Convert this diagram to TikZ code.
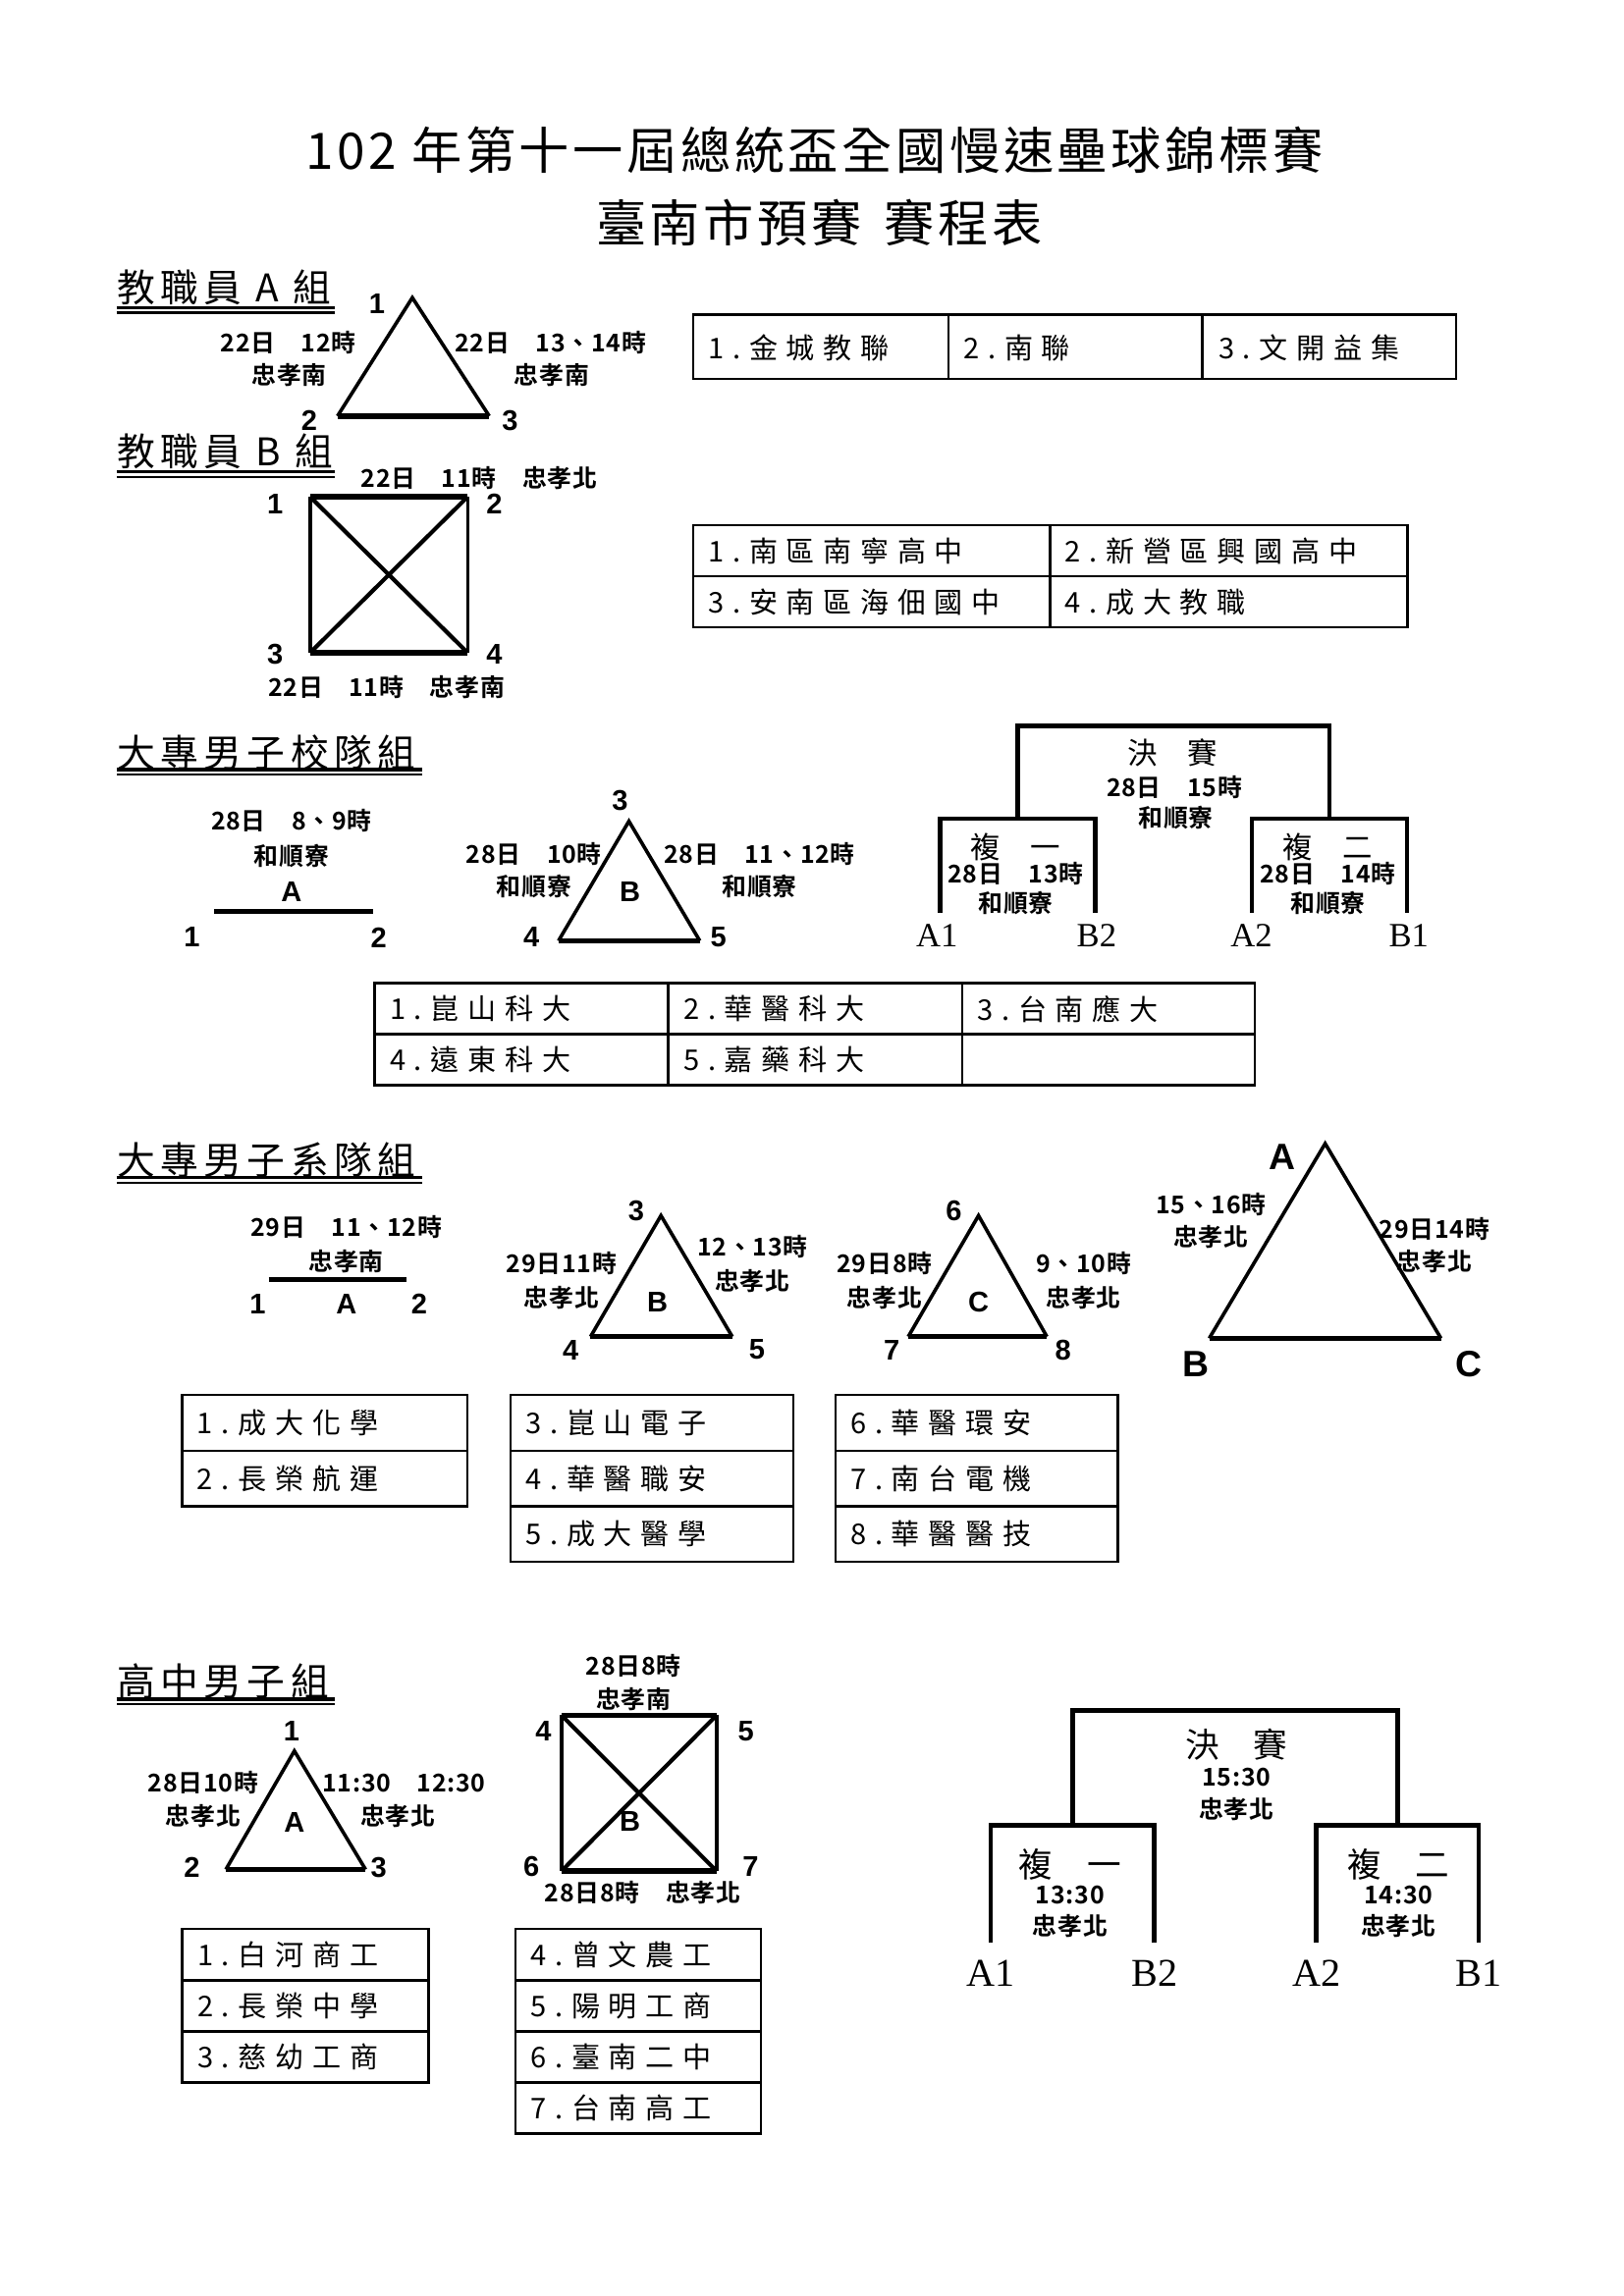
\documentclass[tikz,border=0pt]{standalone}
\usepackage{fontspec}
\setmainfont{Noto Sans CJK TC}
\newfontfamily\titlefont{Noto Sans CJK TC}[LetterSpace=7]
\newfontfamily\headfont{Noto Sans CJK TC}[LetterSpace=14]
\newfontfamily\cellfont{Noto Sans CJK TC}[LetterSpace=30]
\newfontfamily\labfont{Noto Sans CJK TC Bold}[LetterSpace=3]
\newfontfamily\numfont{Liberation Sans}
\newfontfamily\leaffont{Liberation Serif}

\begin{document}
\begin{tikzpicture}[x=0.019091cm,y=-0.019091cm,
  lab/.style={font=\labfont\fontsize{9}{10}\selectfont,inner sep=0pt},
  vnum/.style={font=\numfont\bfseries\fontsize{10.5}{12}\selectfont,inner sep=0pt},
  bignum/.style={font=\numfont\bfseries\fontsize{13.5}{15}\selectfont,inner sep=0pt},
  cell/.style={font=\cellfont\fontsize{10.5}{12}\selectfont,anchor=west,inner sep=0pt},
  head/.style={font=\headfont\fontsize{14}{16}\selectfont,anchor=west,inner sep=0pt},
  leaf/.style={font=\leaffont\fontsize{12.5}{14}\selectfont,inner sep=0pt},
  bigleaf/.style={font=\leaffont\fontsize{14.5}{16}\selectfont,inner sep=0pt},
  rnd/.style={font=\fontsize{11}{13}\selectfont,inner sep=0pt},
  bigrnd/.style={font=\fontsize{12.5}{14}\selectfont,inner sep=0pt},
  sideln/.style={line width=1.3pt},
  baseln/.style={line width=2pt},
  crossln/.style={line width=1.5pt},
  brk/.style={line width=1.7pt},
  grid/.style={line width=0.9pt},
  ulinetop/.style={line width=1.2pt},
  ulinebot/.style={line width=0.9pt}]
  \useasboundingbox (0,0) rectangle (1100,1555.6);
  \fill[white] (0,0) rectangle (1100,1555.6);

  \node[font=\titlefont\fontsize{18.5}{22}\selectfont,inner sep=0pt] (title1) at (551.7,102) {102 年第十一屆總統盃全國慢速壘球錦標賽};
  \node[font=\titlefont\fontsize{18.5}{22}\selectfont,inner sep=0pt] (title2) at (554.8,150.7) {臺南市預賽\hspace{0.45em}賽程表};

  % 教職員 A 組
  \node[head] (headA) at (79,195) {教職員 A 組};
  \draw[ulinetop] (79,208.4) -- (227,208.4);
  \draw[ulinebot] (79,211.9) -- (227,211.9);
  \coordinate (ja1) at (279.3,201.7);
  \coordinate (ja2) at (228.6,281.9);
  \coordinate (ja3) at (331.4,281.9);
  \draw[sideln] (ja2) -- (ja1) -- (ja3);
  \draw[baseln] (ja2) -- (ja3);
  \node[vnum] (ja1n) at (255.3,206) {1};
  \node[vnum] (ja2n) at (209.4,285) {2};
  \node[vnum] (ja3n) at (345.5,285) {3};
  \node[lab] (jaL1) at (195.3,232.3) {22日　12時};
  \node[lab] (jaL2) at (196,254.4) {忠孝南};
  \node[lab] (jaR1) at (373,232.3) {22日　13、14時};
  \node[lab] (jaR2) at (373.7,254.4) {忠孝南};
  \draw[grid] (469.6,213.3) rectangle (986.3,256.7);
  \draw[grid] (642.6,213.3) -- (642.6,256.7);
  \draw[grid] (814.4,213.3) -- (814.4,256.7);
  \node[cell] (jaT1) at (479.4,236) {1.金城教聯};
  \node[cell] (jaT2) at (652.4,236) {2.南聯};
  \node[cell] (jaT3) at (825,236) {3.文開益集};

  % 教職員 B 組
  \node[head] (headB) at (79,305.9) {教職員 B 組};
  \draw[ulinetop] (79,319.7) -- (227,319.7);
  \draw[ulinebot] (79,323.2) -- (227,323.2);
  \node[lab] (jbTop) at (324.6,323.7) {22日　11時　忠孝北};
  \coordinate (jb1) at (210,336.5);
  \coordinate (jb2) at (316.8,336.5);
  \coordinate (jb3) at (210,442.3);
  \coordinate (jb4) at (316.8,442.3);
  \draw[sideln] (jb1) -- (jb3) (jb2) -- (jb4);
  \draw[baseln] (jb1) -- (jb2) (jb3) -- (jb4);
  \draw[crossln] (jb1) -- (jb4) (jb2) -- (jb3);
  \node[vnum] (jb1n) at (186.4,341.3) {1};
  \node[vnum] (jb2n) at (334.8,341.3) {2};
  \node[vnum] (jb3n) at (186.4,443.3) {3};
  \node[vnum] (jb4n) at (334.8,443.3) {4};
  \node[lab] (jbBot) at (261.8,465.5) {22日　11時　忠孝南};
  \draw[grid] (469.6,355.8) rectangle (953.4,425);
  \draw[grid] (469.6,390.4) -- (953.4,390.4);
  \draw[grid] (711.2,355.8) -- (711.2,425);
  \node[cell] (jbT1) at (479.4,373.5) {1.南區南寧高中};
  \node[cell] (jbT2) at (721,373.5) {2.新營區興國高中};
  \node[cell] (jbT3) at (479.4,408) {3.安南區海佃國中};
  \node[cell] (jbT4) at (721,408) {4.成大教職};

  % 大專男子校隊組
  \node[head] (headC) at (79,509.9) {大專男子校隊組};
  \draw[ulinetop] (79,521.4) -- (286,521.4);
  \draw[ulinebot] (79,524.9) -- (286,524.9);
  \node[lab] (caL1) at (197.5,556) {28日　8、9時};
  \node[lab] (caL2) at (197.5,579.7) {和順寮};
  \node[vnum] (caName) at (197.5,604.5) {A};
  \coordinate (ca1) at (145,617.4);
  \coordinate (ca2) at (253,617.4);
  \draw[line width=1.7pt] (ca1) -- (ca2);
  \node[vnum] (ca1n) at (130,635.1) {1};
  \node[vnum] (ca2n) at (256.6,635.1) {2};
  \coordinate (cb3) at (426,556.4);
  \coordinate (cb4) at (378.3,637.4);
  \coordinate (cb5) at (474,637.4);
  \draw[sideln] (cb4) -- (cb3) -- (cb5);
  \draw[baseln] (cb4) -- (cb5);
  \node[vnum] (cb3n) at (420,542.7) {3};
  \node[vnum] (cb4n) at (360,635.1) {4};
  \node[vnum] (cb5n) at (486.7,635.1) {5};
  \node[vnum] (cbName) at (426.7,604.1) {B};
  \node[lab] (cbL1) at (361.7,578.6) {28日　10時};
  \node[lab] (cbL2) at (361.7,600.8) {和順寮};
  \node[lab] (cbR1) at (514.5,578.6) {28日　11、12時};
  \node[lab] (cbR2) at (514.5,600.8) {和順寮};
  \coordinate (ckA1) at (637,618.5);
  \coordinate (ckB2) at (742,618.5);
  \coordinate (ckA2) at (848,618.5);
  \coordinate (ckB1) at (953,618.5);
  \coordinate (cq1) at (689.5,554.7);
  \coordinate (cq2) at (900.5,554.7);
  \coordinate (cfin) at (795,491.7);
  \draw[brk] (ckA1) |- (cq1) -| (ckB2);
  \draw[brk] (ckA2) |- (cq2) -| (ckB1);
  \draw[brk] (cq1) |- (cfin) -| (cq2);
  \node[rnd] (cfinT) at (794,509.9) {決　賽};
  \node[lab] (cfinD) at (795.5,533.2) {28日　15時};
  \node[lab] (cfinP) at (796.5,554.2) {和順寮};
  \node[rnd] (cs1T) at (688,574.2) {複　一};
  \node[lab] (cs1D) at (688,591.9) {28日　13時};
  \node[lab] (cs1P) at (688,611.9) {和順寮};
  \node[rnd] (cs2T) at (899.5,574.2) {複　二};
  \node[lab] (cs2D) at (899.5,591.9) {28日　14時};
  \node[lab] (cs2P) at (899.5,611.9) {和順寮};
  \node[leaf] (cl1) at (634.7,634) {A1};
  \node[leaf] (cl2) at (742.8,634) {B2};
  \node[leaf] (cl3) at (847.6,634) {A2};
  \node[leaf] (cl4) at (954.2,634) {B1};
  \draw[grid] (253.7,666.2) rectangle (850,735.3);
  \draw[grid] (253.7,700.7) -- (850,700.7);
  \draw[grid] (452.7,666.2) -- (452.7,735.3);
  \draw[grid] (651.6,666.2) -- (651.6,735.3);
  \node[cell] (cT1) at (263.7,683.5) {1.崑山科大};
  \node[cell] (cT2) at (462.7,683.5) {2.華醫科大};
  \node[cell] (cT3) at (661.6,683.5) {3.台南應大};
  \node[cell] (cT4) at (263.7,718) {4.遠東科大};
  \node[cell] (cT5) at (462.7,718) {5.嘉藥科大};

  % 大專男子系隊組
  \node[head] (headD) at (79,785.7) {大專男子系隊組};
  \draw[ulinetop] (79,797.9) -- (286,797.9);
  \draw[ulinebot] (79,801.4) -- (286,801.4);
  \node[lab] (daL1) at (234.6,831.3) {29日　11、12時};
  \node[lab] (daL2) at (234.6,854.6) {忠孝南};
  \coordinate (da1) at (182,866.8);
  \coordinate (da2) at (275.3,866.8);
  \draw[line width=1.7pt] (da1) -- (da2);
  \node[vnum] (da1n) at (174.6,883.4) {1};
  \node[vnum] (daName) at (234.6,883.4) {A};
  \node[vnum] (da2n) at (284,883.4) {2};
  \coordinate (db3) at (447.7,823.6);
  \coordinate (db4) at (400,905.6);
  \coordinate (db5) at (496,905.6);
  \draw[sideln] (db4) -- (db3) -- (db5);
  \draw[baseln] (db4) -- (db5);
  \node[vnum] (db3n) at (431,820.3) {3};
  \node[vnum] (db4n) at (386.6,914.5) {4};
  \node[vnum] (db5n) at (512.7,914.5) {5};
  \node[vnum] (dbName) at (445.3,882.3) {B};
  \node[lab] (dbL1) at (380.4,855.7) {29日11時};
  \node[lab] (dbL2) at (380.4,879) {忠孝北};
  \node[lab] (dbR1) at (509.7,844.6) {12、13時};
  \node[lab] (dbR2) at (509.7,867.9) {忠孝北};
  \coordinate (dc6) at (662.8,823.6);
  \coordinate (dc7) at (615.2,905.6);
  \coordinate (dc8) at (709.1,905.6);
  \draw[sideln] (dc7) -- (dc6) -- (dc8);
  \draw[baseln] (dc7) -- (dc8);
  \node[vnum] (dc6n) at (646,820.3) {6};
  \node[vnum] (dc7n) at (604,914.5) {7};
  \node[vnum] (dc8n) at (720,914.5) {8};
  \node[vnum] (dcName) at (662.8,882.3) {C};
  \node[lab] (dcL1) at (599.2,855.7) {29日8時};
  \node[lab] (dcL2) at (599.2,879) {忠孝北};
  \node[lab] (dcR1) at (734,855.7) {9、10時};
  \node[lab] (dcR2) at (734,879) {忠孝北};
  \coordinate (dfA) at (897.6,774.8);
  \coordinate (dfB) at (819.1,906.7);
  \coordinate (dfC) at (976,906.7);
  \draw[sideln] (dfB) -- (dfA) -- (dfC);
  \draw[baseln] (dfB) -- (dfC);
  \node[bignum] (dfAn) at (868.5,783.7) {A};
  \node[bignum] (dfBn) at (809.8,924.5) {B};
  \node[bignum] (dfCn) at (995.2,924.5) {C};
  \node[lab] (dfL1) at (820.3,815.8) {15、16時};
  \node[lab] (dfL2) at (820.3,838) {忠孝北};
  \node[lab] (dfR1) at (971.7,832.5) {29日14時};
  \node[lab] (dfR2) at (971.7,854.6) {忠孝北};
  \draw[grid] (123.3,945) rectangle (316.7,1020.6);
  \draw[grid] (123.3,982.9) -- (316.7,982.9);
  \draw[grid] (345.7,945) rectangle (537.2,1058);
  \draw[grid] (345.7,982.9) -- (537.2,982.9);
  \draw[grid] (345.7,1020.6) -- (537.2,1020.6);
  \draw[grid] (565.8,945) rectangle (757.3,1058);
  \draw[grid] (565.8,982.9) -- (757.3,982.9);
  \draw[grid] (565.8,1020.6) -- (757.3,1020.6);
  \node[cell] (dT1) at (133.3,964) {1.成大化學};
  \node[cell] (dT2) at (133.3,1001.8) {2.長榮航運};
  \node[cell] (dT3) at (355.7,964) {3.崑山電子};
  \node[cell] (dT4) at (355.7,1001.8) {4.華醫職安};
  \node[cell] (dT5) at (355.7,1039.3) {5.成大醫學};
  \node[cell] (dT6) at (575.8,964) {6.華醫環安};
  \node[cell] (dT7) at (575.8,1001.8) {7.南台電機};
  \node[cell] (dT8) at (575.8,1039.3) {8.華醫醫技};

  % 高中男子組
  \node[head] (headE) at (79,1138.8) {高中男子組};
  \draw[ulinetop] (79,1151.2) -- (227,1151.2);
  \draw[ulinebot] (79,1154.7) -- (227,1154.7);
  \coordinate (ea1) at (199.4,1186.3);
  \coordinate (ea2) at (153,1266.6);
  \coordinate (ea3) at (247.6,1266.6);
  \draw[sideln] (ea2) -- (ea1) -- (ea3);
  \draw[baseln] (ea2) -- (ea3);
  \node[vnum] (ea1n) at (197.5,1172.7) {1};
  \node[vnum] (ea2n) at (130,1265.5) {2};
  \node[vnum] (ea3n) at (256.6,1265.5) {3};
  \node[vnum] (eaName) at (199.4,1235) {A};
  \node[lab] (eaL1) at (137.6,1207.8) {28日10時};
  \node[lab] (eaL2) at (137.6,1230.4) {忠孝北};
  \node[lab] (eaR1) at (273.6,1207.8) {11:30　12:30};
  \node[lab] (eaR2) at (269.5,1230.4) {忠孝北};
  \coordinate (eb4) at (380.3,1162.1);
  \coordinate (eb5) at (485.4,1162.1);
  \coordinate (eb6) at (380.3,1267.7);
  \coordinate (eb7) at (485.4,1267.7);
  \draw[sideln] (eb4) -- (eb6) (eb5) -- (eb7);
  \draw[baseln] (eb4) -- (eb5) (eb6) -- (eb7);
  \draw[crossln] (eb4) -- (eb7) (eb5) -- (eb6);
  \node[vnum] (eb4n) at (368,1172.7) {4};
  \node[vnum] (eb5n) at (505.2,1172.7) {5};
  \node[vnum] (eb6n) at (360,1264.3) {6};
  \node[vnum] (eb7n) at (508.4,1264.3) {7};
  \node[vnum] (ebName) at (426.7,1233.8) {B};
  \node[lab] (ebTop1) at (429.2,1128.6) {28日8時};
  \node[lab] (ebTop2) at (429.2,1151.2) {忠孝南};
  \node[lab] (ebBot) at (435.4,1282.5) {28日8時　忠孝北};
  \coordinate (ekA1) at (671,1315.9);
  \coordinate (ekB2) at (782,1315.9);
  \coordinate (ekA2) at (891.7,1315.9);
  \coordinate (ekB1) at (1001.6,1315.9);
  \coordinate (eq1) at (726.5,1236.5);
  \coordinate (eq2) at (946.7,1236.5);
  \coordinate (efin) at (836.6,1158.7);
  \draw[brk] (ekA1) |- (eq1) -| (ekB2);
  \draw[brk] (ekA2) |- (eq2) -| (ekB1);
  \draw[brk] (eq1) |- (efin) -| (eq2);
  \node[bigrnd] (efinT) at (837.6,1181.8) {決　賽};
  \node[lab] (efinD) at (837.6,1204.4) {15:30};
  \node[lab] (efinP) at (837.6,1225.9) {忠孝北};
  \node[bigrnd] (es1T) at (724.8,1263.2) {複　一};
  \node[lab] (es1D) at (724.8,1283.6) {13:30};
  \node[lab] (es1P) at (724.8,1305.1) {忠孝北};
  \node[bigrnd] (es2T) at (947.3,1263.2) {複　二};
  \node[lab] (es2D) at (947.3,1283.6) {14:30};
  \node[lab] (es2P) at (947.3,1305.1) {忠孝北};
  \node[bigleaf] (el1) at (671,1336.7) {A1};
  \node[bigleaf] (el2) at (782,1336.7) {B2};
  \node[bigleaf] (el3) at (891.7,1336.7) {A2};
  \node[bigleaf] (el4) at (1001.6,1336.7) {B1};
  \draw[grid] (123.4,1307) rectangle (290.2,1410.8);
  \draw[grid] (123.4,1341.6) -- (290.2,1341.6);
  \draw[grid] (123.4,1376.2) -- (290.2,1376.2);
  \draw[grid] (349,1307) rectangle (515.5,1445.4);
  \draw[grid] (349,1341.6) -- (515.5,1341.6);
  \draw[grid] (349,1376.2) -- (515.5,1376.2);
  \draw[grid] (349,1410.8) -- (515.5,1410.8);
  \node[cell] (eT1) at (133.4,1324.3) {1.白河商工};
  \node[cell] (eT2) at (133.4,1358.9) {2.長榮中學};
  \node[cell] (eT3) at (133.4,1393.5) {3.慈幼工商};
  \node[cell] (eT4) at (359,1324.3) {4.曾文農工};
  \node[cell] (eT5) at (359,1358.9) {5.陽明工商};
  \node[cell] (eT6) at (359,1393.5) {6.臺南二中};
  \node[cell] (eT7) at (359,1428.1) {7.台南高工};
\end{tikzpicture}
\end{document}
